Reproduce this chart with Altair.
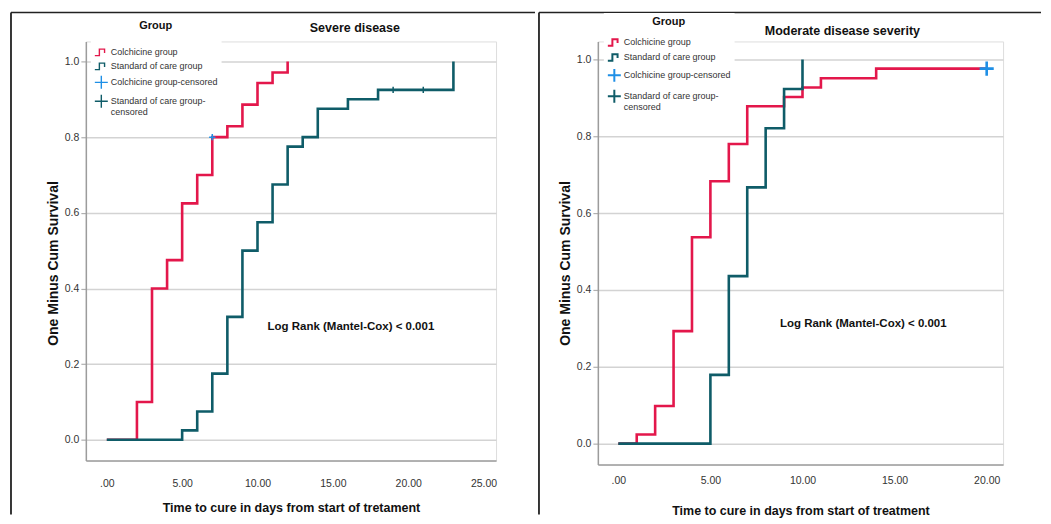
import altair as alt
import pandas as pd

# ---------------- data ----------------
severe_col_t = [0, 2, 3, 4, 5, 6, 7, 8, 9, 10, 11, 12]
severe_col_v = [0, 0.1, 0.4, 0.475, 0.625, 0.7, 0.8, 0.829, 0.886, 0.943, 0.971, 1.0]
severe_soc_t = [0, 5, 6, 7, 8, 9, 10, 11, 12, 13, 14, 16, 18, 23]
severe_soc_v = [0, 0.025, 0.075, 0.175, 0.325, 0.5, 0.575, 0.675, 0.775, 0.8, 0.875, 0.9, 0.925, 1.0]
severe_col_cens_t = [7]
severe_col_cens_v = [0.8]
severe_soc_cens_t = [19, 21]
severe_soc_cens_v = [0.925, 0.925]

moderate_col_t = [0, 1, 2, 3, 4, 5, 6, 7, 9, 10, 11, 14, 20]
moderate_col_v = [0, 0.024, 0.098, 0.293, 0.537, 0.683, 0.780, 0.878, 0.902, 0.927, 0.951, 0.976, 0.976]
moderate_soc_t = [0, 5, 6, 7, 8, 9, 10]
moderate_soc_v = [0, 0.179, 0.436, 0.667, 0.821, 0.923, 1.0]
moderate_col_cens_t = [20]
moderate_col_cens_v = [0.976]

series_names = ["Colchicine group", "Standard of care group",
                "Colchicine group-censored", "Standard of care group-censored"]
series_colors = ["#e3174b", "#0f5c68", "#1e8fe6", "#0f5c68"]
x_ticks_severe = [0, 5, 10, 15, 20, 25]
x_ticks_moderate = [0, 5, 10, 15, 20]
y_ticks = [0.0, 0.2, 0.4, 0.6, 0.8, 1.0]
stat_text = "Log Rank (Mantel-Cox) < 0.001"

FONT = "Liberation Sans, Arial, sans-serif"
STEP = "M-1,0.5H-0.3V-0.5H0.5V0.1"
CROSS = "M-1,0H1M0,-1V1"


def lines_df(pairs):
    rows = []
    for name, ts, vs in pairs:
        for t, v in zip(ts, vs):
            rows.append({"series": name, "t": t, "v": v})
    return pd.DataFrame(rows)


def panel(lines, cens, stat_xy, title, title_dx, title_dy, xdom, xticks, xtitle,
          width, height, ydom, frame, leg, cens_size, cens_sw, ytitle_y,
          xlab_pad, xtitle_pad):
    xs = alt.Scale(domain=xdom, nice=False, zero=False)
    ys = alt.Scale(domain=ydom, nice=False, zero=False)
    xax = alt.Axis(values=xticks, labelExpr="datum.value == 0 ? '.00' : format(datum.value, '.2f')",
                   grid=False, ticks=False, domainColor="#9c9c9c", domainWidth=1.5,
                   labelFont=FONT, labelFontSize=10.5, labelColor="#333", labelPadding=xlab_pad,
                   title=xtitle, titleFont=FONT, titleFontSize=12.5, titleFontWeight="bold",
                   titleColor="#111", titlePadding=xtitle_pad)
    yax = alt.Axis(values=y_ticks, format=".1f", grid=True, gridColor="#d3d3d3", gridWidth=1.5,
                   ticks=True, tickSize=5, tickColor="#b0b0b0", tickWidth=1.2,
                   domainColor="#9c9c9c", domainWidth=1.5,
                   labelFont=FONT, labelFontSize=10.5, labelColor="#333", labelPadding=2,
                   title="One Minus Cum Survival", titleFont=FONT, titleFontSize=14,
                   titleFontWeight="bold", titleColor="#111", titlePadding=4, titleY=ytitle_y)

    line_layer = alt.Chart(lines).mark_line(interpolate="step-after", strokeWidth=2.6).encode(
        x=alt.X("t:Q", scale=xs, axis=xax),
        y=alt.Y("v:Q", scale=ys, axis=yax),
        stroke=alt.Stroke("series:N", scale=alt.Scale(domain=series_names[:2], range=series_colors[:2]),
                          legend=None),
    )
    legend = alt.Legend(
        orient="none", legendX=leg["x"], legendY=leg["y"], title="Group",
        titleFont=FONT, titleFontSize=11, titleFontWeight="bold", titleColor="#111",
        titleAnchor="middle", titlePadding=leg["tp"],
        labelFont=FONT, labelFontSize=9, labelColor="#333", labelOffset=2,
        symbolSize=169, symbolStrokeWidth=leg["sw"], rowPadding=leg["rp"],
        fillColor="white", padding=3, labelLimit=300,
        labelExpr="datum.label == 'Standard of care group-censored' ? ['Standard of care group-', 'censored'] : datum.label",
    )
    pt_layer = alt.Chart(cens).mark_point(filled=False, size=cens_size, strokeWidth=cens_sw, opacity=1).encode(
        x=alt.X("t:Q", scale=xs),
        y=alt.Y("v:Q", scale=ys),
        color=alt.Color("series:N", scale=alt.Scale(domain=series_names, range=series_colors), legend=legend),
        shape=alt.Shape("series:N", scale=alt.Scale(domain=series_names, range=[STEP, STEP, CROSS, CROSS]),
                        legend=legend),
    )
    stat_df = pd.DataFrame({"t": [stat_xy[0]], "v": [stat_xy[1]], "label": [stat_text]})
    txt_layer = alt.Chart(stat_df).mark_text(font=FONT, fontSize=11.5, fontWeight="bold", color="#111").encode(
        x=alt.X("t:Q", scale=xs), y=alt.Y("v:Q", scale=ys), text="label:N")

    one = pd.DataFrame({"k": [0]})
    fr_v = alt.Chart(one).mark_rule(color="#222222", strokeWidth=1.8).encode(
        x=alt.value(frame["vx"]), x2=alt.value(frame["vx"]),
        y=alt.value(frame["top"]), y2=alt.value(frame["bottom"]))
    fr_h = alt.Chart(one).mark_rule(color="#222222", strokeWidth=1.6).encode(
        x=alt.value(frame["vx"]), x2=alt.value(frame["hx2"]),
        y=alt.value(frame["top"]), y2=alt.value(frame["top"]))

    return alt.layer(line_layer, pt_layer, txt_layer, fr_h, fr_v).properties(
        width=width, height=height,
        title=alt.TitleParams(title, font=FONT, fontSize=12.5, fontWeight="bold", color="#111",
                              anchor="middle", frame="group", dx=title_dx, dy=title_dy),
    ).resolve_scale(color="independent", shape="independent")


sev_lines = lines_df([("Colchicine group", severe_col_t, severe_col_v),
                      ("Standard of care group", severe_soc_t, severe_soc_v)])
sev_cens = lines_df([("Colchicine group-censored", severe_col_cens_t, severe_col_cens_v),
                     ("Standard of care group-censored", severe_soc_cens_t, severe_soc_cens_v)])
mod_lines = lines_df([("Colchicine group", moderate_col_t, moderate_col_v),
                      ("Standard of care group", moderate_soc_t, moderate_soc_v)])
mod_cens = lines_df([("Colchicine group-censored", moderate_col_cens_t, moderate_col_cens_v)])

left = panel(sev_lines, sev_cens, (16.2, 0.298), "Severe disease", 64, 27,
             [-1.39, 25.83], x_ticks_severe, "Time to cure in days from start of tretament",
             411, 420, [-0.055, 1.053],
             {"vx": -75, "top": -29, "bottom": 474, "hx2": 450},
             {"x": 5, "y": -24.5, "tp": 14, "sw": 1.4, "rp": 0}, 40, 1.5, 222, 18, 12)
right = panel(mod_lines, mod_cens, (13.3, 0.312), "Moderate disease severity", 42, 30,
              [-1.11, 20.89], x_ticks_moderate, "Time to cure in days from start of treatment",
              406, 424, [-0.0545, 1.0468],
              {"vx": -59, "top": -29, "bottom": 474, "hx2": 444},
              {"x": 6, "y": -28.5, "tp": 8, "sw": 2.0, "rp": 0}, 200, 2.6, 222, 11, 18)

chart = alt.hconcat(left, right, spacing=0).resolve_scale(
    color="independent", shape="independent", stroke="independent", x="independent", y="independent"
).resolve_legend(color="independent", shape="independent").properties(
    padding={"left": 1, "top": 2, "right": 0, "bottom": 0}
).configure_view(stroke=None).configure(background="white")

chart.save("out.html", embed_options={"renderer": "svg", "actions": False})
